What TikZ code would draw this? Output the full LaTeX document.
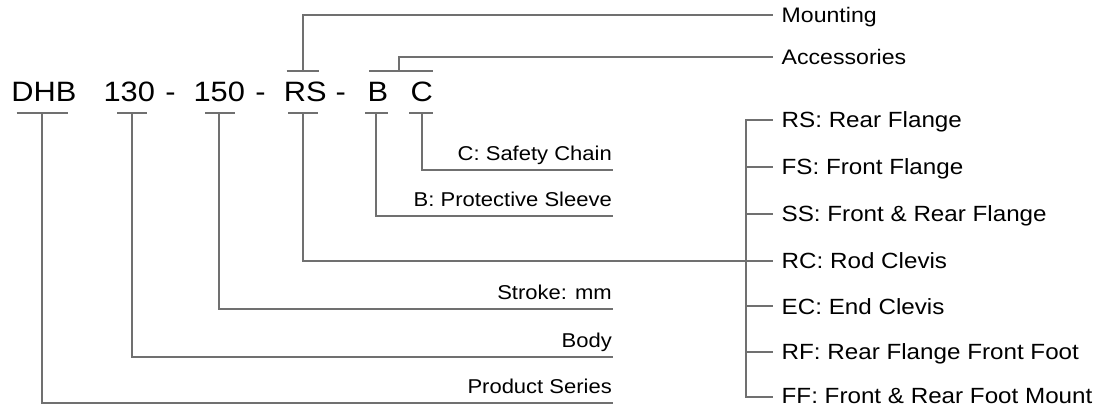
\documentclass[tikz,border=0pt]{standalone}
\usepackage{fontspec}
\setmainfont{Liberation Sans}[FakeStretch=1.1]
\definecolor{linegray}{RGB}{112,112,112}
\begin{document}
\begin{tikzpicture}[x=1pt,y=1pt,
  conn/.style={draw=linegray, line width=2.2pt, line join=miter},
  code/.style={font=\fontsize{28}{28}\selectfont, inner sep=0pt, anchor=base},
  lableft/.style={font=\fontsize{20}{20}\selectfont, inner sep=0pt, anchor=base east},
  labtop/.style={font=\fontsize{21}{21}\selectfont, inner sep=0pt, anchor=base west},
  labright/.style={font=\fontsize{22}{22}\selectfont, inner sep=0pt, anchor=base west},
]
\useasboundingbox (0,0) rectangle (1094,-406);

% code tokens
\node[code] (dhb) at (43.9,-101.7) {DHB};
\node[code] (n130) at (129.3,-101.7) {130};
\node[code] (d1) at (170.5,-101.7) {-};
\node[code] (n150) at (219.3,-101.7) {150};
\node[code] (d2) at (260.5,-101.7) {-};
\node[code] (rs) at (305.2,-101.7) {RS};
\node[code] (d3) at (340.8,-101.7) {-};
\node[code] (b) at (378,-101.7) {B};
\node[code] (c) at (421.7,-101.7) {C};

% bottom bars
\coordinate (dhbL) at (16.7,-113.3); \coordinate (dhbR) at (68,-113.3); \coordinate (dhbM) at (42,-113.3);
\coordinate (aL) at (117,-113.3); \coordinate (aR) at (147,-113.3); \coordinate (aM) at (132,-113.3);
\coordinate (sL) at (205,-113.3); \coordinate (sR) at (235,-113.3); \coordinate (sM) at (219.3,-113.3);
\coordinate (rL) at (288.3,-113.3); \coordinate (rR) at (318.3,-113.3); \coordinate (rM) at (303.3,-113.3);
\coordinate (bL) at (365,-113.3); \coordinate (bR) at (388.3,-113.3); \coordinate (bM) at (376,-113.3);
\coordinate (cL) at (409.3,-113.3); \coordinate (cR) at (433.3,-113.3); \coordinate (cM) at (421.7,-113.3);
\foreach \p in {dhb,a,s,r,b,c} { \draw[conn] (\p L) -- (\p R); }

% top bars
\coordinate (trL) at (286.7,-70.7); \coordinate (trR) at (319.3,-70.7); \coordinate (trM) at (303.3,-70.7);
\coordinate (tbL) at (369.3,-70.7); \coordinate (tbR) at (433.3,-70.7); \coordinate (tbM) at (399.3,-70.7);
\draw[conn] (trL) -- (trR);
\draw[conn] (tbL) -- (tbR);

% top labels
\coordinate (mK) at (303.3,-15); \coordinate (mE) at (772.7,-15);
\coordinate (acK) at (399.3,-56.7); \coordinate (acE) at (772.7,-56.7);
\node[labtop] (mount) at (781.5,-22.5) {Mounting};
\node[labtop] (acc) at (781.5,-64.2) {Accessories};
\draw[conn] (trM) -- (mK) -- (mE);
\draw[conn] (tbM) -- (acK) -- (acE);

% bottom-left labels
\coordinate (prK) at (42,-403); \coordinate (prE) at (613,-403);
\coordinate (boK) at (132,-357); \coordinate (boE) at (613,-357);
\coordinate (stK) at (219.3,-309); \coordinate (stE) at (613,-309);
\coordinate (rsK) at (303.3,-261);
\coordinate (psK) at (376,-216); \coordinate (psE) at (613,-216);
\coordinate (scK) at (421.7,-170); \coordinate (scE) at (613,-170);
\node[lableft] (prod) at (612,-393.5) {Product Series};
\node[lableft] (body) at (612,-347.5) {Body};
\node[lableft] (stroke) at (612,-299.5) {Stroke: mm};
\node[lableft] (sleeve) at (612,-206.5) {B: Protective Sleeve};
\node[lableft] (chain) at (612,-160.5) {C: Safety Chain};
\draw[conn] (dhbM) -- (prK) -- (prE);
\draw[conn] (aM) -- (boK) -- (boE);
\draw[conn] (sM) -- (stK) -- (stE);
\draw[conn] (bM) -- (psK) -- (psE);
\draw[conn] (cM) -- (scK) -- (scE);

% mounting bus
\coordinate (bus1) at (746,-120);   \coordinate (t1) at (772.7,-120);
\coordinate (bus2) at (746,-167);   \coordinate (t2) at (772.7,-167);
\coordinate (bus3) at (746,-214);   \coordinate (t3) at (772.7,-214);
\coordinate (bus4) at (746,-261);   \coordinate (t4) at (772.7,-261);
\coordinate (bus5) at (746,-306.3); \coordinate (t5) at (772.7,-306.3);
\coordinate (bus6) at (746,-351.7); \coordinate (t6) at (772.7,-351.7);
\coordinate (bus7) at (746,-397);   \coordinate (t7) at (772.7,-397);
\draw[conn] (t1) -- (bus1) -- (bus7) -- (t7);
\draw[conn] (bus2) -- (t2);
\draw[conn] (bus3) -- (t3);
\draw[conn] (rM) -- (rsK) -- (bus4) -- (t4);
\draw[conn] (bus5) -- (t5);
\draw[conn] (bus6) -- (t6);
\node[labright] (m1) at (781.5,-127.8) {RS: Rear Flange};
\node[labright] (m2) at (781.5,-174.8) {FS: Front Flange};
\node[labright] (m3) at (781.5,-221.8) {SS: Front \& Rear Flange};
\node[labright] (m4) at (781.5,-268.8) {RC: Rod Clevis};
\node[labright] (m5) at (781.5,-314.1) {EC: End Clevis};
\node[labright] (m6) at (781.5,-359.5) {RF: Rear Flange Front Foot};
\node[labright] (m7) at (781.5,-403.8) {FF: Front \& Rear Foot Mount};
\end{tikzpicture}
\end{document}
